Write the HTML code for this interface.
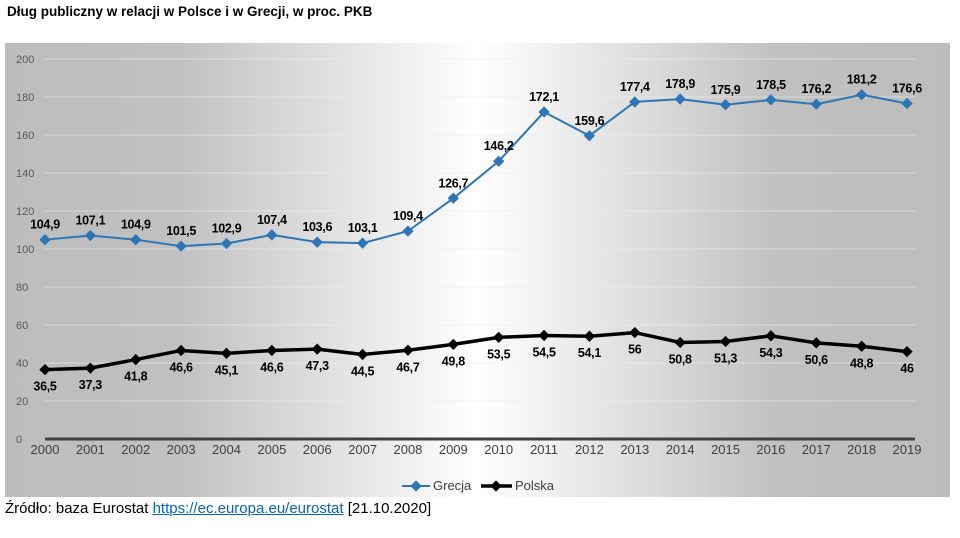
<!DOCTYPE html>
<html><head><meta charset="utf-8"><style>
body{margin:0;background:#fff;width:960px;height:538px;overflow:hidden;font-family:"Liberation Sans Narrow","Liberation Sans",sans-serif;}
#title{position:absolute;left:7px;top:4px;font:bold 13.5px "Liberation Sans",sans-serif;color:#000;}
#src{position:absolute;left:5px;top:500px;font-size:15px;color:#000;}
#src a{color:#0563c1;text-decoration:underline;}
svg{position:absolute;left:0;top:0;}
</style></head><body>
<div id="title">Dług publiczny w relacji w Polsce i w Grecji, w proc. PKB</div>
<svg id="chart" width="960" height="538">
<defs><linearGradient id="bg" x1="0" x2="1" y1="0" y2="0">
<stop offset="0" stop-color="#bdbdbd"/><stop offset="0.18" stop-color="#c0c0c0"/><stop offset="0.5" stop-color="#ffffff"/><stop offset="0.82" stop-color="#c0c0c0"/><stop offset="1" stop-color="#bdbdbd"/></linearGradient></defs>
<rect x="5" y="43" width="945" height="454" fill="url(#bg)"/>
<g id="grid"></g><g id="lines"></g>
<g>
<line x1="402" y1="486" x2="430" y2="486" stroke="#2e75b6" stroke-width="2"/>
<rect x="412" y="482" width="8" height="8" transform="rotate(45 416 486)" fill="#2e75b6"/>
<text x="433" y="490" font-size="13" fill="#404040">Grecja</text>
<line x1="481" y1="486" x2="512" y2="486" stroke="#000" stroke-width="3.5"/>
<rect x="492" y="482" width="8" height="8" transform="rotate(45 496 486)" fill="#000"/>
<text x="515" y="490" font-size="13" fill="#404040">Polska</text>
</g>
</svg>
<div id="src">Źródło: baza Eurostat <a>https://ec.europa.eu/eurostat</a> [21.10.2020]</div>
<script>
const years=[2000,2001,2002,2003,2004,2005,2006,2007,2008,2009,2010,2011,2012,2013,2014,2015,2016,2017,2018,2019];
const grecja=[104.9,107.1,104.9,101.5,102.9,107.4,103.6,103.1,109.4,126.7,146.2,172.1,159.6,177.4,178.9,175.9,178.5,176.2,181.2,176.6];
const polska=[36.5,37.3,41.8,46.6,45.1,46.6,47.3,44.5,46.7,49.8,53.5,54.5,54.1,56,50.8,51.3,54.3,50.6,48.8,46];
const yTicks=[0,20,40,60,80,100,120,140,160,180,200];
const NS='http://www.w3.org/2000/svg';
const x=i=>45+i*(907-45)/19;
const y=v=>439-v*1.9;
const fmt=v=>String(v).replace('.',',');
function mk(t,a,p){const e=document.createElementNS(NS,t);for(const k in a)e.setAttribute(k,a[k]);p.appendChild(e);return e;}
const grid=document.getElementById('grid'),lines=document.getElementById('lines');
yTicks.forEach(t=>{
 if(t>0){const l=mk('line',{x1:45,x2:915,y1:y(t),y2:y(t),stroke:'#ececec','stroke-width':1,'stroke-opacity':0.6},grid);
 
 }
 const tx=mk('text',{x:16,y:y(t)+4,'font-size':11,fill:'#595959'},grid);tx.textContent=t;
 
 
});
const ax=mk('line',{x1:45,x2:915,y1:439,y2:439,stroke:'#404040','stroke-width':3},grid);


years.forEach((yr,i)=>{const t=mk('text',{x:x(i),y:454,'font-size':13,fill:'#404040','text-anchor':'middle'},grid);t.textContent=yr;
 
 });
function series(vals,color,w,name,above){
 const p=mk('polyline',{points:vals.map((v,i)=>x(i)+','+y(v)).join(' '),fill:'none',stroke:color,'stroke-width':w},lines);
 
 
 vals.forEach((v,i)=>{
  const m=mk('rect',{x:x(i)-4,y:y(v)-4,width:8,height:8,fill:color,transform:`rotate(45 ${x(i)} ${y(v)})`},lines);
  
  
  const t=mk('text',{x:x(i),y:above?y(v)-11:y(v)+21,'font-size':12.5,'font-weight':'bold',fill:'#000','text-anchor':'middle','letter-spacing':'-0.3'},lines);
  t.textContent=fmt(v);
  
  
 });
}
series(grecja,'#2e75b6',2,'grecja',true);
series(polska,'#000',3.5,'polska',false);
</script>
</body></html>
